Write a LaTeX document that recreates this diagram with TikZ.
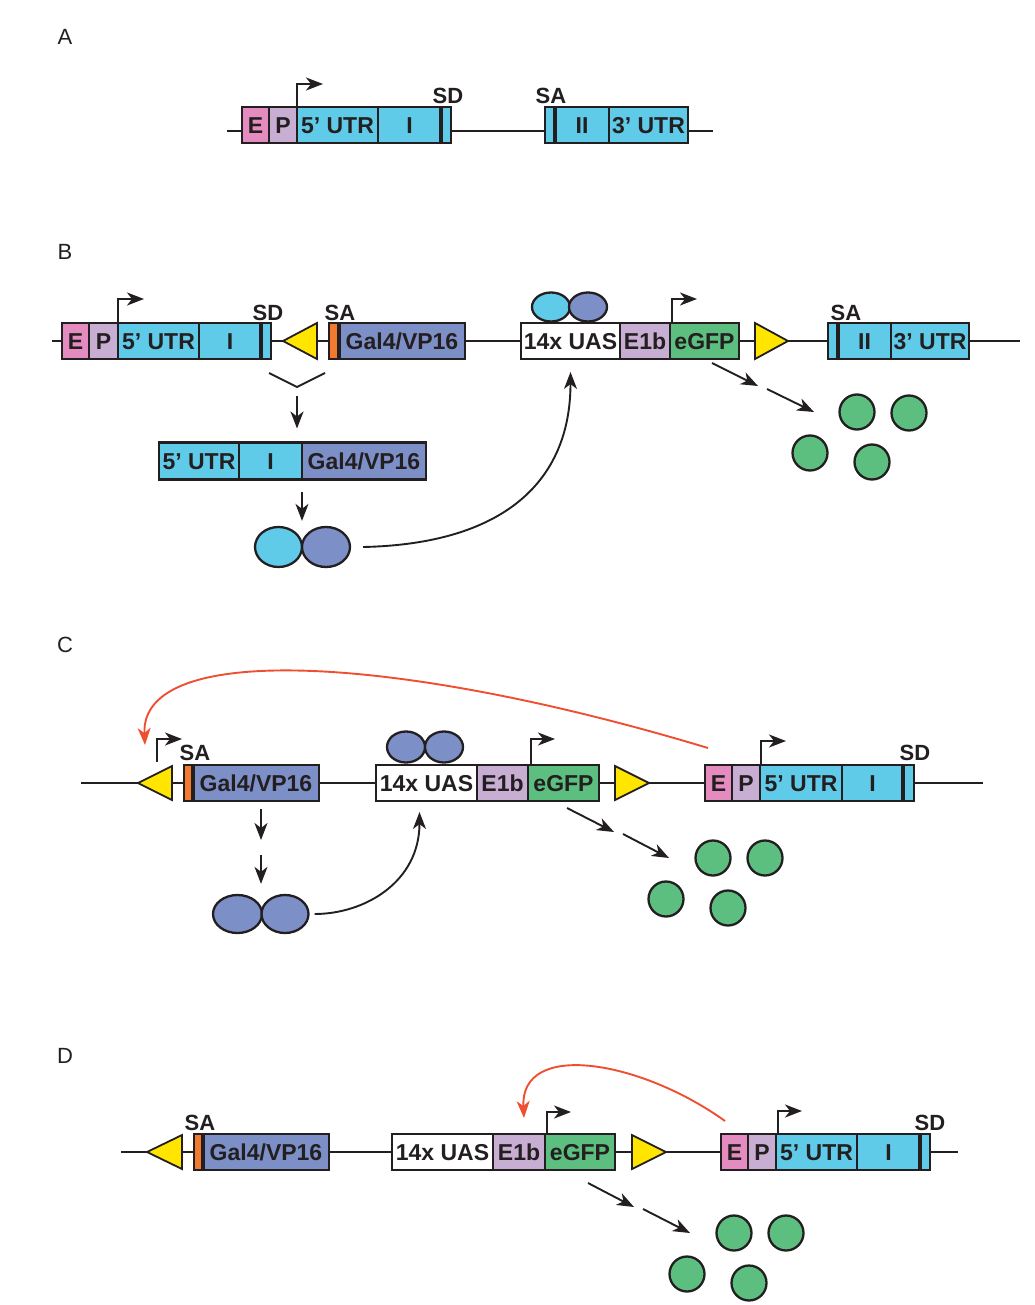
\documentclass[tikz,border=0pt]{standalone}
\usepackage{fontspec}
\newfontfamily\arialish{Liberation Sans}
\usepackage{tikz}
\usetikzlibrary{shapes.geometric, arrows.meta, positioning}
\definecolor{ink}{HTML}{231F20}
\definecolor{colE}{HTML}{E48CBF}
\definecolor{colP}{HTML}{C9AED4}
\definecolor{colU}{HTML}{5FCBE9}
\definecolor{colG}{HTML}{7D8FC7}
\definecolor{colGFP}{HTML}{5DBF7F}
\definecolor{colY}{HTML}{FFE500}
\definecolor{colO}{HTML}{F27A2E}
\definecolor{colR}{HTML}{EF4F30}
\tikzstyle{seg} = [rectangle, draw=ink, line width=2.3pt, minimum height=36pt, inner sep=0pt, outer sep=0pt, anchor=west, text height=16.5pt, text depth=0pt, text=ink, font=\arialish\bfseries\fontsize{23}{27}\selectfont]
\tikzstyle{dna} = [draw=ink, line width=1.8pt]
\tikzstyle{bar} = [draw=ink, line width=3.8pt]
\tikzstyle{arrow} = [draw=ink, line width=1.9pt, -{Stealth[length=17pt,width=13pt,inset=5pt]}]
\tikzstyle{redarrow} = [draw=colR, line width=1.9pt, -{Stealth[length=17pt,width=13pt,inset=5pt]}]
\tikzstyle{loxp} = [fill=colY, draw=ink, line width=1.8pt]
\tikzstyle{dimer} = [ellipse, draw=ink, line width=2.3pt, inner sep=0pt]
\tikzstyle{gfp} = [circle, draw=ink, fill=colGFP, line width=2.3pt, minimum size=35pt, inner sep=0pt]
\tikzstyle{site} = [inner sep=0pt, text height=15.5pt, text depth=0pt, text=ink, font=\arialish\bfseries\fontsize{22}{26}\selectfont]
\tikzstyle{panel} = [inner sep=0pt, text=ink, font=\arialish\fontsize{22}{26}\selectfont]

\begin{document}
\begin{tikzpicture}[x=1pt, y=-1pt]
\useasboundingbox (0,0) rectangle (1034,1305);

% A: endogenous gene
\node[panel] (A) at (65,37) {A};
\coordinate (aL) at (227,131);
\coordinate (aR) at (713,131);
\draw[dna] (aL) -- (aR);
\node[seg, fill=colE, minimum width=27pt] (aE) at (242,125) {E};
\node[seg, fill=colP, minimum width=28pt] (aP) at (269,125) {P};
\node[seg, fill=colU, minimum width=81pt] (aU) at (297,125) {5’ UTR};
\node[seg, fill=colU, minimum width=63pt] (aI) at (378,125) {I};
\node[seg, fill=colU, minimum width=10pt] (aSD) at (441,125) {};
\node[seg, fill=colU, minimum width=10pt] (aSA) at (545,125) {};
\node[seg, fill=colU, minimum width=54pt] (aII) at (555,125) {II};
\node[seg, fill=colU, minimum width=79pt] (a3U) at (609,125) {3’ UTR};
\draw[bar] (aSD.north west) -- (aSD.south west);
\draw[bar] (aSA.north east) -- (aSA.south east);
\draw[arrow] (aU.north west) -- ++(0,-23) -- ++(26,0);
\node[site] (aSDl) at (448,96) {SD};
\node[site] (aSAl) at (551,96) {SA};

% B: gene trap insertion
\node[panel] (B) at (65,252) {B};
\coordinate (bL) at (52,341);
\coordinate (bR) at (1020,341);
\draw[dna] (bL) -- (bR);
\node[seg, fill=colE, minimum width=27pt] (bE) at (62,341) {E};
\node[seg, fill=colP, minimum width=29pt] (bP) at (89,341) {P};
\node[seg, fill=colU, minimum width=81pt] (bU) at (118,341) {5’ UTR};
\node[seg, fill=colU, minimum width=62pt] (bI) at (199,341) {I};
\node[seg, fill=colU, minimum width=10pt] (bSD) at (261,341) {};
\filldraw[loxp] (283,341) -- (317,323) -- (317,359) -- cycle;
\node[seg, fill=colO, minimum width=10pt] (bSA) at (329,341) {};
\node[seg, fill=colG, minimum width=126pt] (bGal) at (339,341) {Gal4/VP16};
\node[seg, fill=white, minimum width=99pt] (bUAS) at (521,341) {14x UAS};
\node[seg, fill=colP, minimum width=50pt] (bE1b) at (620,341) {E1b};
\node[seg, fill=colGFP, minimum width=69pt] (bGFP) at (670,341) {eGFP};
\filldraw[loxp] (788,341) -- (755,323) -- (755,359) -- cycle;
\node[seg, fill=colU, minimum width=10pt] (bSA2) at (828,341) {};
\node[seg, fill=colU, minimum width=53pt] (bII) at (838,341) {II};
\node[seg, fill=colU, minimum width=78pt] (b3U) at (891,341) {3’ UTR};
\draw[bar] (bSD.north west) -- (bSD.south west);
\draw[bar] (bSA.north east) -- (bSA.south east);
\draw[bar] (bSA2.north east) -- (bSA2.south east);
\draw[arrow] (bU.north west) -- ++(0,-24) -- ++(26,0);
\draw[arrow] ([xshift=2pt]bGFP.north west) -- ++(0,-24) -- ++(25,0);
\node[site] (bSDl) at (268,313) {SD};
\node[site] (bSAl) at (340,313) {SA};
\node[site] (bSA2l) at (846,313) {SA};
\node[dimer, fill=colU, minimum width=38pt, minimum height=29pt] (bd1) at (551,307) {};
\node[dimer, fill=colG, minimum width=38pt, minimum height=29pt] (bd2) at (588,307) {};

\coordinate (bk1) at (269,373);
\coordinate (bk2) at (297,387);
\coordinate (bk3) at (325,373);
\draw[dna] (bk1) -- (bk2) -- (bk3);
\node[seg, fill=colU, minimum width=80pt, minimum height=37pt] (bsU) at (159,461) {5’ UTR};
\node[seg, fill=colU, minimum width=63pt, minimum height=37pt] (bsI) at (239,461) {I};
\node[seg, fill=colG, minimum width=124pt, minimum height=37pt] (bsG) at (302,461) {Gal4/VP16};
\draw[arrow] ([yshift=-9pt]bk2) -- ([yshift=14pt]bk2 |- bsU.north);
\node[dimer, fill=colU, minimum width=47pt, minimum height=40pt] (bm1) at (278.5,547) {};
\node[dimer, fill=colG, minimum width=48pt, minimum height=40pt] (bm2) at (326,547) {};
\draw[arrow] ([yshift=-12pt]bsG.south west) -- ([yshift=5pt]bm2.north -| bsG.south west);
\draw[arrow] ([xshift=12pt]bm2.east) .. controls +(140,-3) and +(0,110) .. ([yshift=-13pt]bUAS.south);
\coordinate (bg1) at (712,363);
\coordinate (bg2) at (758,386);
\coordinate (bg3) at (767,389);
\coordinate (bg4) at (814,412);
\draw[arrow] (bg1) -- (bg2);
\draw[arrow] (bg3) -- (bg4);
\node[gfp] (bc1) at (857,412) {};
\node[gfp] (bc2) at (909,413) {};
\node[gfp] (bc3) at (810,453) {};
\node[gfp] (bc4) at (872,462) {};

% C: trap line crossed to enhancer line
\node[panel] (C) at (65,645) {C};
\coordinate (cL) at (81,783);
\coordinate (cR) at (983,783);
\draw[dna] (cL) -- (cR);
\filldraw[loxp] (138,783) -- (172,766) -- (172,800) -- cycle;
\node[seg, fill=colO, minimum width=9pt] (cSA) at (184,783) {};
\node[seg, fill=colG, minimum width=126pt] (cGal) at (193,783) {Gal4/VP16};
\node[seg, fill=white, minimum width=101pt] (cUAS) at (376,783) {14x UAS};
\node[seg, fill=colP, minimum width=51pt] (cE1b) at (477,783) {E1b};
\node[seg, fill=colGFP, minimum width=71pt] (cGFP) at (528,783) {eGFP};
\filldraw[loxp] (649,783) -- (615,766) -- (615,800) -- cycle;
\node[seg, fill=colE, minimum width=27pt] (cE) at (705,783) {E};
\node[seg, fill=colP, minimum width=28pt] (cP) at (732,783) {P};
\node[seg, fill=colU, minimum width=82pt] (cU) at (760,783) {5’ UTR};
\node[seg, fill=colU, minimum width=61pt] (cI) at (842,783) {I};
\node[seg, fill=colU, minimum width=11pt] (cSD) at (903,783) {};
\draw[bar] (cSA.north east) -- (cSA.south east);
\draw[bar] (cSD.north west) -- (cSD.south west);
\coordinate (cp) at (157,762);
\draw[arrow] (cp) -- ++(0,-23) -- ++(25,0);
\draw[arrow] ([xshift=3pt]cGFP.north west) -- ++(0,-26) -- ++(24,0);
\draw[arrow] ([xshift=1pt]cU.north west) -- ++(0,-24) -- ++(25,0);
\node[site] (cSAl) at (195,753) {SA};
\node[site] (cSDl) at (915,753) {SD};
\node[dimer, fill=colG, minimum width=38pt, minimum height=31pt] (cd1) at (406,747) {};
\node[dimer, fill=colG, minimum width=38pt, minimum height=31pt] (cd2) at (444,747) {};
\coordinate (cr) at (145,745);
\draw[redarrow] ([xshift=3pt,yshift=17pt]cE.north west) .. controls (400,655) and (140,640) .. (cr);
\coordinate (cb) at (261,840);
\draw[arrow] ([yshift=-8pt]cGal.south -| cb) -- (cb);
\node[dimer, fill=colG, minimum width=49pt, minimum height=38pt] (cm1) at (237.5,914) {};
\node[dimer, fill=colG, minimum width=47pt, minimum height=38pt] (cm2) at (285,914) {};
\draw[arrow] ([yshift=-15pt]cb) -- ([yshift=10pt]cm1.north -| cb);
\draw[arrow] ([xshift=5pt]cm2.east) .. controls +(50,0) and +(0,70) .. ([xshift=-7pt,yshift=-11pt]cUAS.south);
\coordinate (cg1) at (567,808);
\coordinate (cg2) at (614,832);
\coordinate (cg3) at (623,834);
\coordinate (cg4) at (669,858);
\draw[arrow] (cg1) -- (cg2);
\draw[arrow] (cg3) -- (cg4);
\node[gfp] (cc1) at (713,858) {};
\node[gfp] (cc2) at (765,858) {};
\node[gfp] (cc3) at (666,899) {};
\node[gfp] (cc4) at (728,908) {};

% D: after recombination
\node[panel] (D) at (65,1056) {D};
\coordinate (dL) at (121,1152);
\coordinate (dR) at (958,1152);
\draw[dna] (dL) -- (dR);
\filldraw[loxp] (147,1152) -- (182,1135) -- (182,1169) -- cycle;
\node[seg, fill=colO, minimum width=9pt] (dSA) at (194,1152) {};
\node[seg, fill=colG, minimum width=126pt] (dGal) at (203,1152) {Gal4/VP16};
\node[seg, fill=white, minimum width=101pt] (dUAS) at (392,1152) {14x UAS};
\node[seg, fill=colP, minimum width=52pt] (dE1b) at (493,1152) {E1b};
\node[seg, fill=colGFP, minimum width=70pt] (dGFP) at (545,1152) {eGFP};
\filldraw[loxp] (666,1152) -- (632,1135) -- (632,1169) -- cycle;
\node[seg, fill=colE, minimum width=27pt] (dE) at (721,1152) {E};
\node[seg, fill=colP, minimum width=28pt] (dP) at (748,1152) {P};
\node[seg, fill=colU, minimum width=81pt] (dU) at (776,1152) {5’ UTR};
\node[seg, fill=colU, minimum width=63pt] (dI) at (857,1152) {I};
\node[seg, fill=colU, minimum width=10pt] (dSD) at (920,1152) {};
\draw[bar] (dSA.north east) -- (dSA.south east);
\draw[bar] (dSD.north west) -- (dSD.south west);
\draw[arrow] ([xshift=2pt]dGFP.north west) -- ++(0,-22) -- ++(24,0);
\draw[arrow] ([xshift=2pt]dU.north west) -- ++(0,-23) -- ++(24,0);
\node[site] (dSAl) at (200,1123) {SA};
\node[site] (dSDl) at (930,1123) {SD};
\draw[redarrow] ([xshift=4pt,yshift=13pt]dE.north west) .. controls (640,1060) and (520,1040) .. ([xshift=31pt,yshift=16pt]dE1b.north west);
\coordinate (dg1) at (588,1183);
\coordinate (dg2) at (634,1207);
\coordinate (dg3) at (643,1209);
\coordinate (dg4) at (690,1233);
\draw[arrow] (dg1) -- (dg2);
\draw[arrow] (dg3) -- (dg4);
\node[gfp] (dc1) at (734,1233) {};
\node[gfp] (dc2) at (786,1233) {};
\node[gfp] (dc3) at (687,1274) {};
\node[gfp] (dc4) at (749,1283) {};

\end{tikzpicture}
\end{document}
